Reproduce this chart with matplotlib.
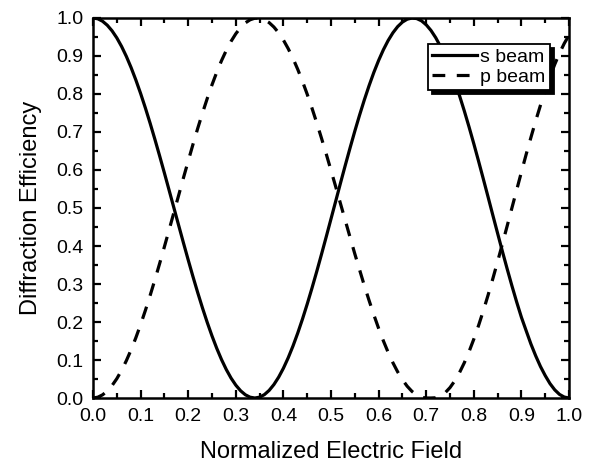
import numpy as np
import matplotlib
matplotlib.use("Agg")
from matplotlib import pyplot as plt
from matplotlib.ticker import MultipleLocator

plt.rcParams['font.family'] = ['Liberation Sans', 'DejaVu Sans']

# normalized field, sampled every 0.01
field = np.round(np.arange(0, 101) * 0.01, 2)

# s beam efficiency
s_beam = [1.0000, 0.9979, 0.9915, 0.9809, 0.9662, 0.9476, 0.9251, 0.8990, 0.8695, 0.8368,
          0.8013, 0.7632, 0.7229, 0.6806, 0.6368, 0.5919, 0.5461, 0.5000, 0.4539, 0.4081,
          0.3632, 0.3193, 0.2771, 0.2368, 0.1987, 0.1632, 0.1305, 0.1010, 0.0749, 0.0524,
          0.0338, 0.0191, 0.0085, 0.0021, 0.0000, 0.0022, 0.0089, 0.0200, 0.0354, 0.0549,
          0.0784, 0.1057, 0.1365, 0.1706, 0.2076, 0.2473, 0.2892, 0.3329, 0.3782, 0.4245,
          0.4716, 0.5187, 0.5661, 0.6126, 0.6581, 0.7023, 0.7445, 0.7846, 0.8221, 0.8569,
          0.8883, 0.9164, 0.9407, 0.9610, 0.9773, 0.9892, 0.9968, 0.9999, 0.9985, 0.9926,
          0.9821, 0.9672, 0.9481, 0.9248, 0.8976, 0.8669, 0.8327, 0.7955, 0.7555, 0.7132,
          0.6690, 0.6232, 0.5763, 0.5288, 0.4808, 0.4333, 0.3861, 0.3401, 0.2955, 0.2528,
          0.2124, 0.1770, 0.1420, 0.1110, 0.0830, 0.0590, 0.0380, 0.0215, 0.0095, 0.0025,
          0.0000]

# p beam efficiency
p_beam = [0.0000, 0.0021, 0.0083, 0.0185, 0.0328, 0.0509, 0.0728, 0.0982, 0.1269, 0.1587,
          0.1934, 0.2306, 0.2700, 0.3113, 0.3541, 0.3983, 0.4431, 0.4887, 0.5339, 0.5795,
          0.6237, 0.6675, 0.7097, 0.7500, 0.7883, 0.8243, 0.8575, 0.8879, 0.9149, 0.9386,
          0.9586, 0.9748, 0.9871, 0.9953, 0.9995, 0.9995, 0.9956, 0.9878, 0.9762, 0.9609,
          0.9419, 0.9195, 0.8939, 0.8651, 0.8335, 0.7992, 0.7627, 0.7241, 0.6836, 0.6420,
          0.5988, 0.5554, 0.5110, 0.4670, 0.4229, 0.3793, 0.3374, 0.2958, 0.2566, 0.2188,
          0.1833, 0.1504, 0.1202, 0.0929, 0.0688, 0.0482, 0.0310, 0.0175, 0.0078, 0.0020,
          0.0000, 0.0000, 0.0006, 0.0051, 0.0141, 0.0275, 0.0452, 0.0670, 0.0927, 0.1221,
          0.1550, 0.1909, 0.2297, 0.2709, 0.3142, 0.3592, 0.4053, 0.4525, 0.5000, 0.5473,
          0.5947, 0.6412, 0.6858, 0.7293, 0.7703, 0.8091, 0.8450, 0.8779, 0.9073, 0.9330,
          0.9548]

fig = plt.figure(figsize=(5.91, 4.66), dpi=100)
ax = fig.add_axes([0.1574, 0.1459, 0.8054, 0.8155])

ax.plot(field, s_beam, color='black', lw=2.3, label='s beam')
ax.plot(field, p_beam, color='black', lw=2.3, dashes=(4.0, 3.6), label='p beam')

ax.set_xlim(0, 1.0)
ax.set_ylim(0, 1.0)
ax.xaxis.set_major_locator(MultipleLocator(0.1))
ax.xaxis.set_minor_locator(MultipleLocator(0.05))
ax.yaxis.set_major_locator(MultipleLocator(0.1))
ax.yaxis.set_minor_locator(MultipleLocator(0.05))
ax.xaxis.set_major_formatter(plt.FormatStrFormatter('%.1f'))
ax.yaxis.set_major_formatter(plt.FormatStrFormatter('%.1f'))

ax.tick_params(which='both', direction='in', top=True, right=True, width=1.6, labelsize=14)
ax.tick_params(which='major', length=6, pad=7)
ax.tick_params(which='minor', length=3.5)
for sp in ax.spines.values():
    sp.set_linewidth(1.8)

ax.set_xlabel('Normalized Electric Field', fontsize=17, labelpad=12)
ax.set_ylabel('Diffraction Efficiency', fontsize=17, labelpad=10)

leg = ax.legend(loc='upper right', bbox_to_anchor=(0.960, 0.932), fontsize=14,
                frameon=True, fancybox=False,
                shadow={'color': 'black', 'alpha': 1, 'ox': 3, 'oy': -3},
                edgecolor='black', framealpha=1, handlelength=2.3, handletextpad=0.2,
                borderpad=0.22, labelspacing=0.12, borderaxespad=0)
leg.get_frame().set_linewidth(1.3)

plt.savefig('out.png', dpi=100)
